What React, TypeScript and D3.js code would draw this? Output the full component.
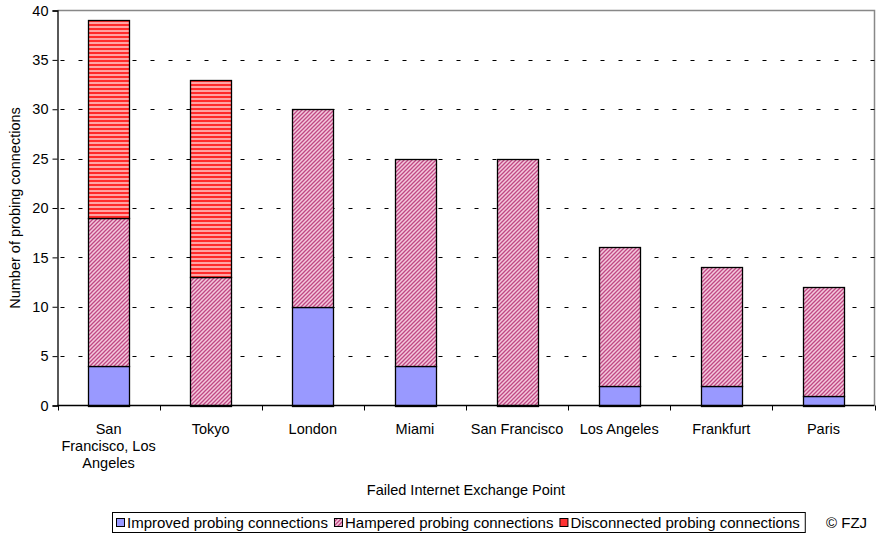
import { useEffect, useRef } from 'react';
import * as d3 from 'd3';

// Failed exchange points (x categories)
const categories = [
  'San Francisco, Los Angeles',
  'Tokyo',
  'London',
  'Miami',
  'San Francisco',
  'Los Angeles',
  'Frankfurt',
  'Paris',
];
// wrapped label lines, as in the original chart
const categoryLines = [
  ['San', 'Francisco, Los', 'Angeles'],
  ['Tokyo'],
  ['London'],
  ['Miami'],
  ['San Francisco'],
  ['Los Angeles'],
  ['Frankfurt'],
  ['Paris'],
];
const improved = [4, 0, 10, 4, 0, 2, 2, 1];
const hampered = [15, 13, 20, 21, 25, 14, 12, 11];
const disconnected = [20, 20, 0, 0, 0, 0, 0, 0];
const seriesNames = [
  'Improved probing connections',
  'Hampered probing connections',
  'Disconnected probing connections',
];
const yTicks = [0, 5, 10, 15, 20, 25, 30, 35, 40];

const W = 878;
const H = 534;
const FONT = '"Liberation Sans", Arial, sans-serif';
const FS = 14.5;

export default function App() {
  const svgRef = useRef<SVGSVGElement>(null);

  useEffect(() => {
    if (!svgRef.current) return;
    const svg = d3.select(svgRef.current);
    svg.selectAll('*').remove();

    const plot = { left: 57.5, right: 874.5, top: 10.5, bottom: 405.5 };

    const x = d3.scaleBand<string>()
      .domain(categories)
      .range([plot.left, plot.right])
      .paddingInner(0.6)
      .paddingOuter(0.3);
    const band = d3.scaleBand<string>().domain(categories).range([plot.left, plot.right]);
    const y = d3.scaleLinear().domain([0, 40]).range([plot.bottom, plot.top]);

    // patterns
    const defs = svg.append('defs');
    const hatch = defs.append('pattern')
      .attr('id', 'hampered')
      .attr('patternUnits', 'userSpaceOnUse')
      .attr('width', 4).attr('height', 4);
    hatch.append('rect').attr('width', 4).attr('height', 4).attr('fill', '#f4c8dc');
    hatch.append('path')
      .attr('d', 'M-1,1 l2,-2 M0,4 l4,-4 M3,5 l2,-2')
      .attr('stroke', '#c04884')
      .attr('stroke-width', 1.3);

    const stripes = defs.append('pattern')
      .attr('id', 'disconnected')
      .attr('patternUnits', 'userSpaceOnUse')
      .attr('width', 4).attr('height', 4);
    stripes.append('rect').attr('width', 4).attr('height', 4).attr('fill', '#ffa4a4');
    stripes.append('rect').attr('y', 0).attr('width', 4).attr('height', 2).attr('fill', '#ff2a2a');

    const fills = ['#9999ff', 'url(#hampered)', 'url(#disconnected)'];
    const legendFills = ['#9999ff', 'url(#hampered)', '#ff3333'];

    // frame (grey top/right)
    svg.append('path')
      .attr('d', `M${plot.left},${plot.top}H${plot.right}V${plot.bottom}`)
      .attr('fill', 'none')
      .attr('stroke', '#888')
      .attr('stroke-width', 1.5);

    // gridlines
    svg.append('g')
      .selectAll('line')
      .data(yTicks.filter(t => t > 0 && t < 40))
      .join('line')
      .attr('x1', plot.left).attr('x2', plot.right)
      .attr('y1', d => Math.round(y(d)) + 0.5).attr('y2', d => Math.round(y(d)) + 0.5)
      .attr('stroke', '#000')
      .attr('stroke-dasharray', '4,14')
      .attr('stroke-dashoffset', -3);

    // stacked bars
    const stackData = categories.map((c, i) => ({
      cat: c,
      improved: improved[i],
      hampered: hampered[i],
      disconnected: disconnected[i],
    }));
    const stack = d3.stack<any>().keys(['improved', 'hampered', 'disconnected'])(stackData);

    stack.forEach((layer, li) => {
      svg.append('g')
        .selectAll('rect')
        .data(layer.filter(d => d[1] - d[0] > 0))
        .join('rect')
        .attr('x', d => Math.round(x(d.data.cat)!) + 0.5)
        .attr('width', Math.round(x.bandwidth()))
        .attr('y', d => Math.round(y(d[1])) + 0.5)
        .attr('height', d => Math.round(y(d[0])) - Math.round(y(d[1])))
        .attr('fill', fills[li])
        .attr('stroke', '#000')
        .attr('stroke-width', 1.3);
    });

    // y axis
    const yAxis = svg.append('g')
      .attr('transform', `translate(${plot.left},0)`)
      .call(d3.axisLeft(y).tickValues(yTicks).tickSize(5).tickPadding(4));
    yAxis.select('.domain').attr('stroke', '#000').attr('stroke-width', 1.3);
    yAxis.selectAll('line').attr('stroke', '#000');
    yAxis.selectAll('text')
      .attr('font-family', FONT)
      .attr('font-size', FS)
      .attr('fill', '#000');

    // x axis
    svg.append('line')
      .attr('x1', plot.left).attr('x2', plot.right)
      .attr('y1', plot.bottom).attr('y2', plot.bottom)
      .attr('stroke', '#000').attr('stroke-width', 1.3);
    svg.append('g')
      .selectAll('line')
      .data(d3.range(categories.length + 1))
      .join('line')
      .attr('x1', i => Math.round(plot.left + i * band.bandwidth()) + 0.5)
      .attr('x2', i => Math.round(plot.left + i * band.bandwidth()) + 0.5)
      .attr('y1', plot.bottom).attr('y2', plot.bottom + 5)
      .attr('stroke', '#000');

    const xl = svg.append('g');
    categories.forEach((c, i) => {
      const cx = band(c)! + band.bandwidth() / 2;
      const t = xl.append('text')
        .attr('x', cx)
        .attr('y', 434)
        .attr('text-anchor', 'middle')
        .attr('font-family', FONT)
        .attr('font-size', FS);
      categoryLines[i].forEach((line, j) => {
        t.append('tspan').attr('x', cx).attr('dy', j === 0 ? 0 : 17).text(line);
      });
    });

    // axis titles
    svg.append('text')
      .attr('x', (plot.left + plot.right) / 2)
      .attr('y', 495)
      .attr('text-anchor', 'middle')
      .attr('font-family', FONT)
      .attr('font-size', FS)
      .text('Failed Internet Exchange Point');
    svg.append('text')
      .attr('transform', `translate(20,${(plot.top + plot.bottom) / 2}) rotate(-90)`)
      .attr('text-anchor', 'middle')
      .attr('font-family', FONT)
      .attr('font-size', FS)
      .text('Number of probing connections');

    // legend
    const lg = svg.append('g');
    const box = lg.append('rect')
      .attr('x', 112.5).attr('y', 512.5)
      .attr('height', 20)
      .attr('fill', '#fff')
      .attr('stroke', '#000');
    let lx = 116;
    seriesNames.forEach((name, i) => {
      lg.append('rect')
        .attr('x', lx + 0.5).attr('y', 518.5)
        .attr('width', 8).attr('height', 8)
        .attr('fill', legendFills[i])
        .attr('stroke', '#000');
      const t = lg.append('text')
        .attr('x', lx + 11)
        .attr('y', 527.5)
        .attr('font-family', FONT)
        .attr('font-size', 15)
        .text(name);
      const w = (t.node() as SVGTextElement).getComputedTextLength();
      lx = lx + 11 + w + 6;
    });
    box.attr('width', lx - 113);

    svg.append('text')
      .attr('x', 826)
      .attr('y', 527.5)
      .attr('font-family', FONT)
      .attr('font-size', 15)
      .text('© FZJ');
  }, []);

  return (
    <svg
      ref={svgRef}
      width={W}
      height={H}
      style={{ position: 'absolute', left: 0, top: 0, background: '#fff' }}
    />
  );
}
